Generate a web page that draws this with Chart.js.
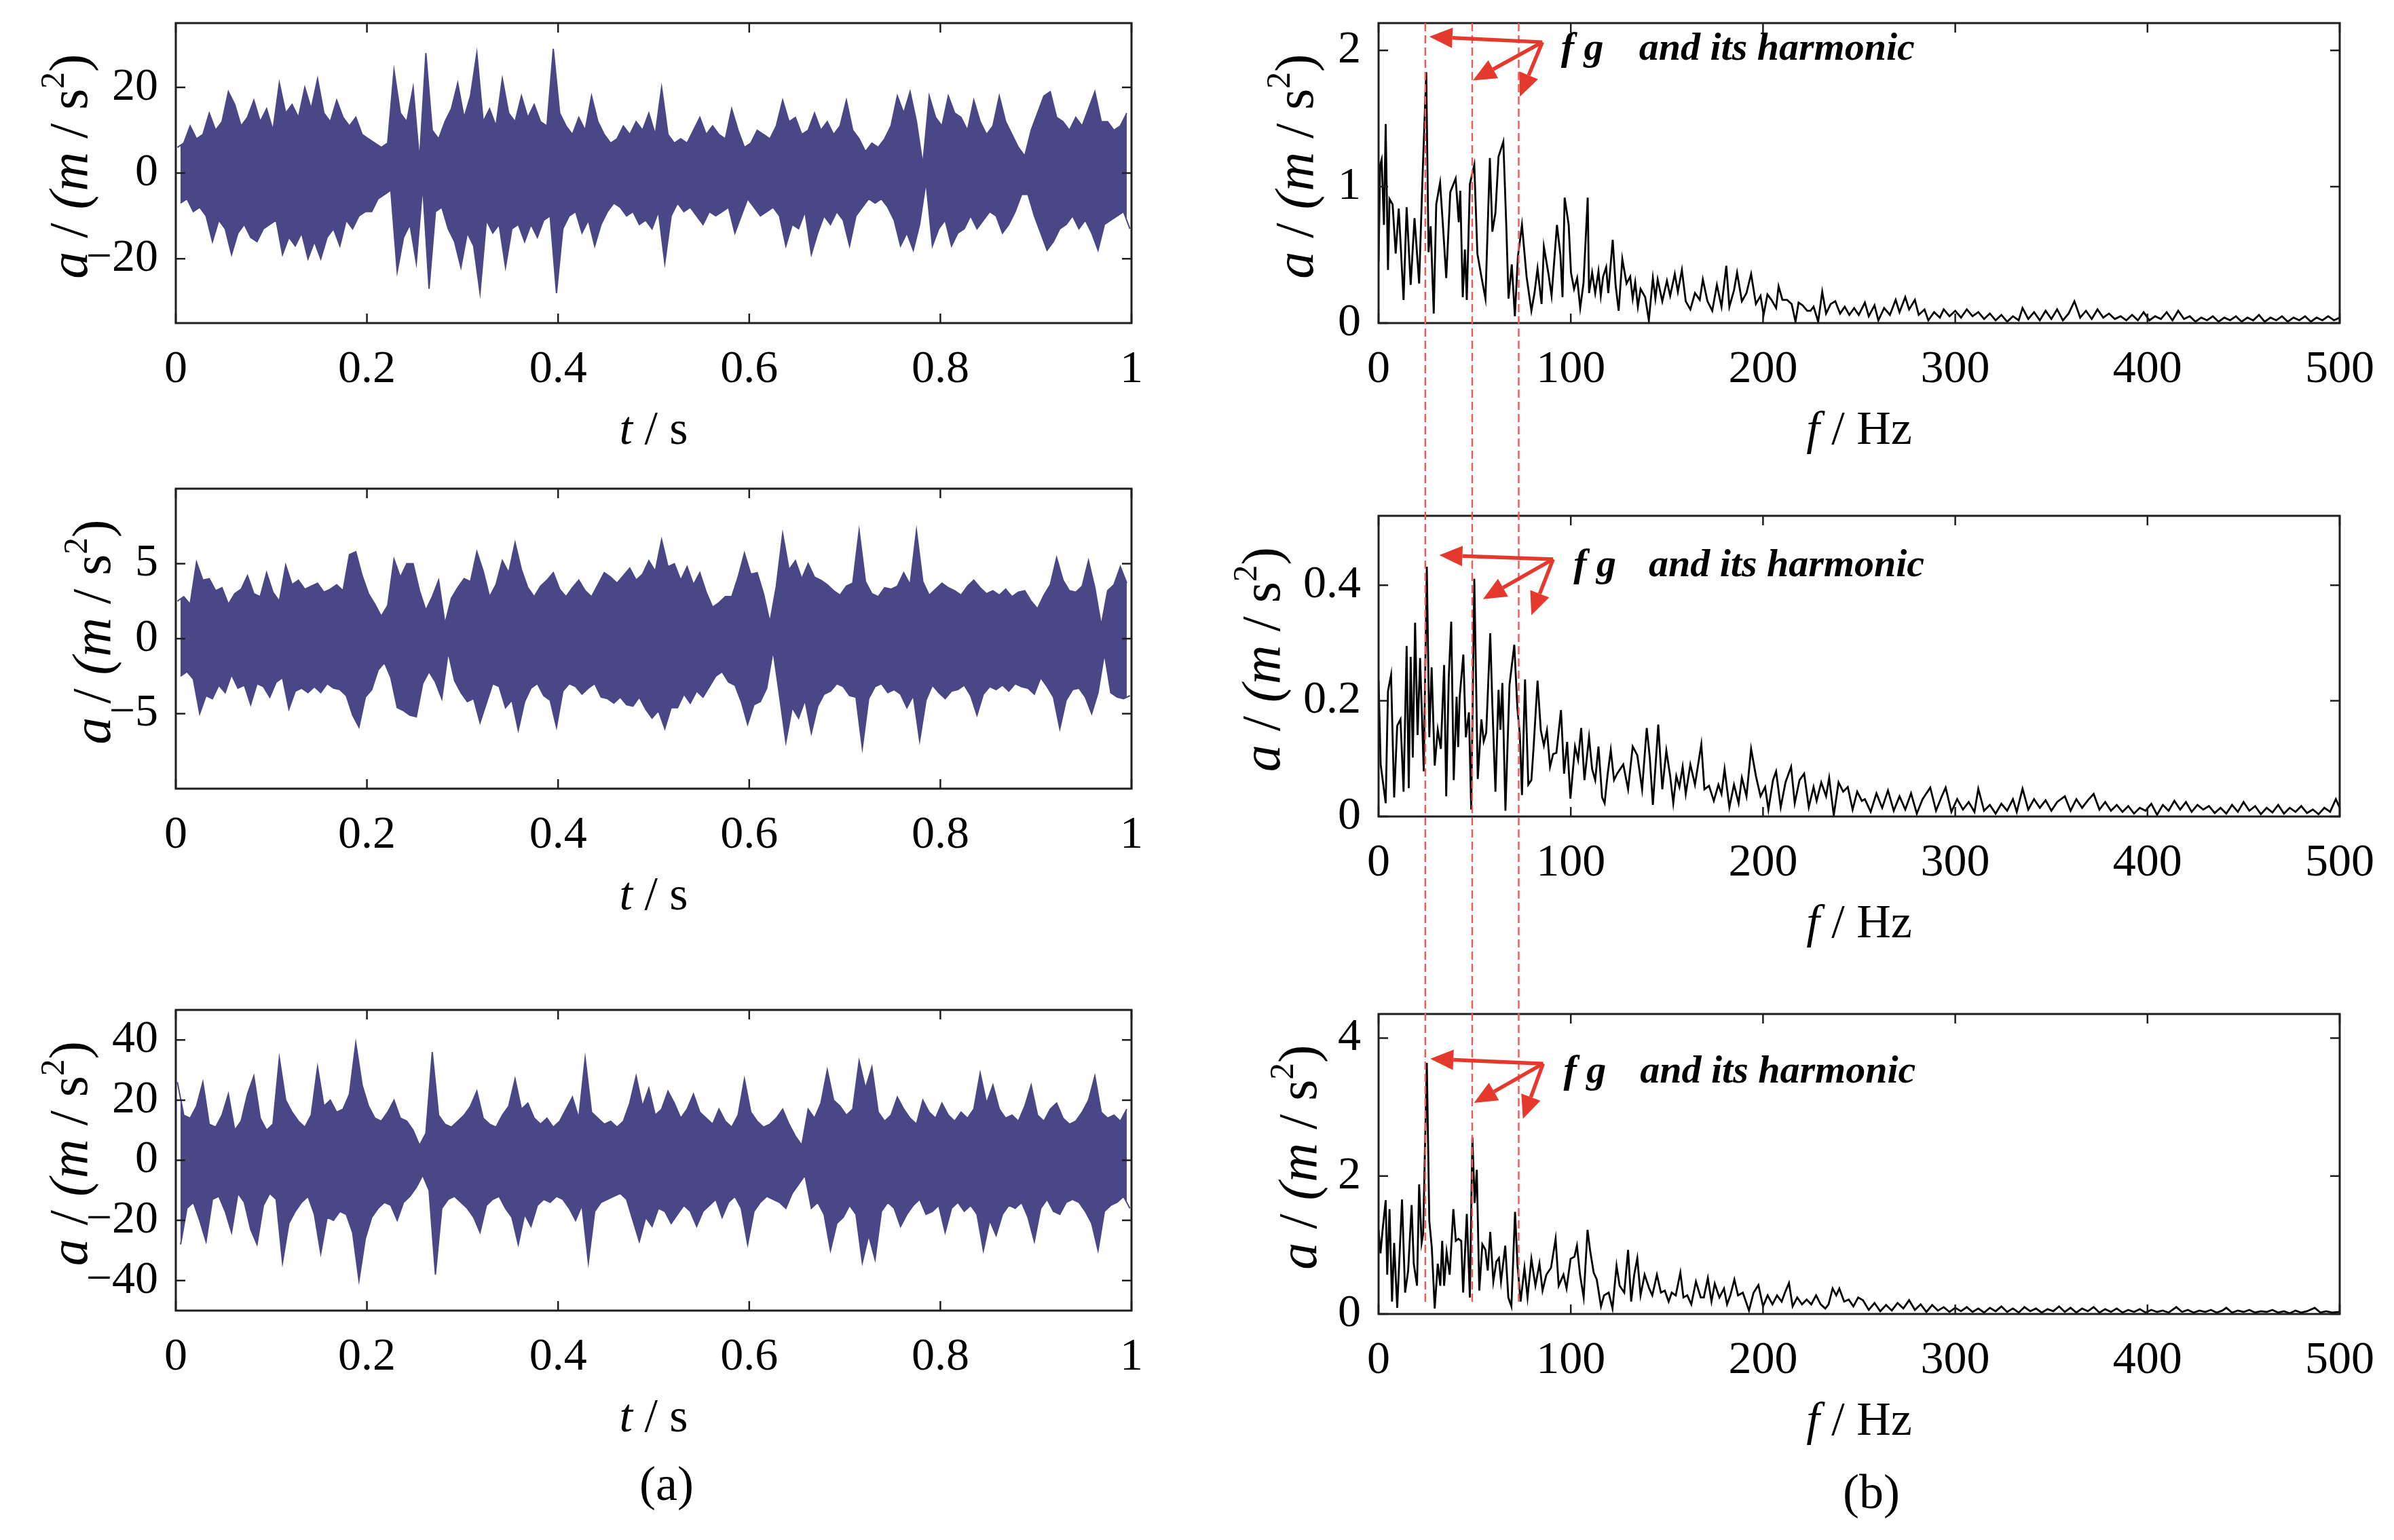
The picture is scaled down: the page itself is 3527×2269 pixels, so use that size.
<!DOCTYPE html>
<html>
<head>
<meta charset="utf-8">
<script src="https://cdn.jsdelivr.net/npm/chart.js@4.4.0/dist/chart.umd.min.js"></script>
<style>
  html, body { margin: 0; padding: 0; background: #fff; }
  #page { position: relative; width: 3527px; height: 2269px; background: #fff; overflow: hidden; }
  #page canvas { position: absolute; }
  .cap { position: absolute; font-family: 'Liberation Serif', serif; font-size: 72px; color: #000; transform: translate(-50%, -50%); }
</style>
</head>
<body>
<div id="page">
  <div class="cap" style="left:982px; top:2186px">(a)</div>
  <div class="cap" style="left:2757px; top:2198px">(b)</div>
  <canvas id="overlay" width="3527" height="2269" style="left:0;top:0;z-index:5;pointer-events:none"></canvas>
</div>
<script>
// ---- tick labels ----
const timeTicks = [0, 0.2, 0.4, 0.6, 0.8, 1];
const freqTicks = [0, 100, 200, 300, 400, 500];
const yTicksSig1 = [-20, 0, 20];
const yTicksSig2 = [-5, 0, 5];
const yTicksSig3 = [-40, -20, 0, 20, 40];
const yTicksSpec1 = [0, 1, 2];
const yTicksSpec2 = [0, 0.2, 0.4];
const yTicksSpec3 = [0, 2, 4];

// ---- time signals: peak / trough per 1/150 s bin ----
const sig1Hi = [6,7,11,8,9,14,10,12,19,16,
  11,13,17,12,15,10,21,14,16,13,
  20,15,22,14,12,17,13,11,13,9,
  8,7,6,7,24,14,12,20,3,28,
  10,8,12,15,21,13,18,28,12,15,
  11,22,14,12,18,13,16,12,11,29,
  14,11,9,13,10,18,12,9,7,8,
  11,9,12,10,14,9,20,9,7,8,
  7,10,13,9,11,9,8,15,10,6,
  7,10,9,8,11,17,12,13,9,10,
  14,10,12,9,11,17,10,8,5,7,
  6,8,11,18,14,19,12,2,18,13,
  11,18,14,13,10,17,12,9,11,18,
  12,9,6,4,10,14,18,19,13,12,
  10,13,11,15,19,12,12,10,11,14];
const sig1Lo = [-7,-6,-9,-8,-10,-16,-11,-13,-19,-14,
  -12,-15,-16,-13,-12,-11,-19,-15,-17,-14,
  -20,-16,-20,-15,-13,-17,-11,-13,-10,-9,
  -9,-6,-5,-4,-23,-15,-12,-21,-3,-27,
  -9,-8,-13,-16,-22,-14,-17,-28,-11,-14,
  -12,-22,-13,-12,-16,-12,-15,-11,-10,-28,
  -13,-10,-9,-14,-11,-17,-12,-9,-7,-8,
  -10,-9,-12,-11,-13,-9,-21,-10,-7,-9,
  -8,-10,-12,-9,-10,-9,-8,-14,-10,-6,
  -8,-10,-9,-8,-10,-17,-12,-13,-9,-19,
  -14,-10,-12,-9,-11,-17,-10,-8,-6,-7,
  -6,-8,-11,-17,-14,-18,-12,-2,-17,-13,
  -11,-17,-14,-13,-10,-13,-11,-9,-10,-14,
  -12,-9,-5,-5,-10,-14,-18,-16,-13,-12,
  -10,-13,-11,-14,-18,-12,-11,-10,-9,-13];

const sig2Hi = [2.5,2.8,2.3,5.1,3.9,4,3.2,3.4,2.3,3,
  3.3,4.2,3,2.8,4.4,3.1,2.5,4.9,3.6,3.9,
  3.3,3.5,3.7,3.1,3.3,3.6,3.2,5.6,5.8,4.2,
  3,2.3,1.5,2.2,5.3,4.1,5,5,3.2,1.9,
  2.8,3.9,1,2.7,3.4,4,3.8,5.8,4.5,2.8,
  3.6,5.2,4.4,6.4,4.6,3.4,2.8,3.5,3.9,4.4,
  3.3,2.8,3.4,3.9,3.2,2.8,3.6,4.4,4.1,3.7,
  4.2,4.7,3.9,4.3,5.2,4.5,6.6,4.8,5,3.9,
  4.8,3.6,4.4,3.1,2.1,2.4,2.8,2.8,4.1,5.7,
  4.3,4.4,3,1.1,3.5,7,4.6,5.2,4,5,
  4.1,3.9,3.6,3.2,2.9,3.5,3.7,7.2,3.8,3,
  2.8,3.4,3.3,3.5,4.4,3.6,7.2,3.8,2.9,3.3,
  3.7,3.4,3.2,2.9,3.5,3.9,3.4,3,3.2,2.9,
  3.3,2.8,3.1,3.2,2.5,2,2.9,3.6,5.4,3.9,
  3.2,3.1,3.5,5.2,3.4,0.9,3.2,3.6,4.8,3.7];
const sig2Lo = [-2.5,-2.2,-2.7,-5,-3.8,-4,-3.1,-3.6,-2.4,-3.3,
  -3.1,-4.4,-3,-3.2,-3.9,-2.9,-2.6,-4.7,-3.5,-3.3,
  -3.6,-3.2,-3.6,-3,-3.3,-3.4,-3.8,-5.1,-5.9,-3.9,
  -3.4,-2.1,-1.6,-2.6,-4.6,-4.8,-5.1,-5.2,-3,-2.2,
  -2.9,-4,-0.9,-2.8,-3.6,-4.2,-4,-5.6,-4.3,-3,
  -3.2,-4.6,-4.1,-6.1,-4.2,-3.3,-3,-3.8,-4.1,-5.9,
  -3.5,-3,-3.2,-3.7,-3.3,-3,-3.9,-4,-4.3,-3.9,
  -4.4,-4.5,-3.9,-4.7,-5.3,-4.8,-6,-4.6,-4.6,-3.7,
  -4.3,-3.5,-3.9,-3.2,-2.5,-2.2,-2.9,-3.1,-4.2,-5.7,
  -4.4,-4.2,-3.3,-0.8,-3.8,-6.9,-4.6,-5.3,-4.1,-6.3,
  -4.5,-3.7,-3.5,-3,-3.2,-3.8,-3.9,-7.3,-4,-3.2,
  -3,-3.6,-3.4,-3.7,-4.6,-3.8,-6.8,-4.1,-3.1,-3.6,
  -4,-3.5,-3.4,-3.1,-3.8,-5.1,-3.7,-3.2,-3.4,-3.1,
  -3.5,-3,-3.2,-3.3,-3.7,-2.6,-3.2,-3.9,-6,-4.1,
  -3.4,-3.3,-3.9,-5,-3.6,-1,-3.6,-3.9,-4,-3.8];

const sig3Hi = [26,15,14,18,26,12,11,15,22,10,
  13,22,28,14,10,12,34,20,16,13,
  11,15,31,18,20,16,17,22,39,25,
  18,14,13,16,20,14,13,10,5,9,
  36,15,12,11,13,15,18,23,14,12,
  11,15,18,27,17,19,14,12,14,11,
  13,17,21,14,34,16,14,12,13,11,
  13,19,28,18,24,15,17,23,19,14,
  17,22,16,14,12,17,13,11,15,27,
  16,13,11,12,14,17,12,8,5,17,
  14,19,30,20,18,15,17,33,24,31,
  16,13,15,21,17,14,12,20,16,14,
  19,15,13,16,14,17,29,19,25,17,
  14,15,13,18,25,15,13,17,19,14,
  12,13,16,20,28,16,14,15,13,17];
const sig3Lo = [-28,-16,-14,-20,-27,-13,-12,-17,-24,-11,
  -14,-23,-28,-15,-11,-13,-34,-21,-17,-14,
  -12,-18,-31,-19,-20,-17,-18,-24,-40,-26,
  -19,-16,-14,-15,-20,-14,-12,-9,-5,-10,
  -38,-16,-13,-12,-14,-16,-19,-24,-15,-13,
  -12,-16,-19,-28,-18,-22,-15,-13,-14,-12,
  -13,-16,-20,-15,-34,-17,-14,-13,-12,-11,
  -13,-20,-27,-19,-22,-16,-17,-21,-18,-15,
  -17,-22,-17,-15,-13,-19,-14,-12,-16,-28,
  -17,-14,-12,-13,-14,-16,-11,-8,-5,-16,
  -14,-18,-30,-21,-19,-15,-18,-34,-25,-33,
  -17,-14,-16,-22,-18,-15,-13,-18,-17,-15,
  -24,-16,-14,-17,-15,-18,-30,-20,-25,-18,
  -15,-16,-14,-19,-27,-16,-13,-17,-18,-14,
  -13,-14,-17,-21,-30,-17,-15,-14,-12,-16];

// ---- spectra: [frequency Hz, amplitude] at the visible peaks and dips ----
const spec1 = [[0,0.45],[0.8,1.16],[1.6,1.2],[2.8,0.72],[3.7,1.46],[4.9,0.39],[5.7,0.91],[7.3,0.87],[8.9,0.51],[10.5,0.84],
  [13,0.17],[14.6,0.85],[16.7,0.28],[18.7,0.77],[21.1,0.29],[22.7,1.0],[24.8,1.84],[26,0.52],[27.1,0.71],[28.7,0.07],
  [30,0.87],[32,1.03],[33.6,0.69],[35.2,0.33],[37.3,0.96],[40.1,1.06],[41.7,0.74],[42.5,0.97],[43.8,0.19],[44.9,0.54],
  [45.9,0.17],[47.5,1.02],[49.8,1.16],[51.4,0.51],[53.5,0.34],[55.6,0.18],[57.9,1.21],[59.2,0.67],[60.8,0.81],[62.4,1.22],
  [64.9,1.33],[66.5,0.69],[67.6,0.18],[69.3,0.43],[70.9,0.05],[72.5,0.49],[74.6,0.72],[77,0.34],[79.5,0.09],[81.1,0.22],
  [82.7,0.4],[84.8,0.14],[86,0.56],[88.4,0.36],[90,0.2],[92.8,0.72],[94.6,0.5],[95.7,0.19],[96.8,0.92],[98.9,0.72],
  [100.1,0.37],[101.7,0.25],[103.3,0.33],[104.9,0.11],[106.6,0.29],[108.8,0.92],[109.5,0.22],[111.1,0.37],[112.7,0.22],[114.4,0.38],
  [115.6,0.2],[116.8,0.34],[118.4,0.41],[119.5,0.22],[121.8,0.61],[123.3,0.28],[124.9,0.09],[126.8,0.47],[129,0.29],[130.9,0.34],
  [132.2,0.18],[133.5,0.3],[134.9,0.12],[136.3,0.25],[138.7,0.19],[140.6,0.02],[142.7,0.33],[144,0.18],[145.2,0.32],[147.6,0.16],
  [150,0.31],[151.7,0.2],[154.1,0.36],[155.7,0.23],[157.8,0.39],[159.8,0.16],[162.2,0.1],[164.6,0.22],[167.1,0.17],[168.7,0.32],
  [171.1,0.16],[173.6,0.09],[176,0.28],[178.4,0.12],[180.9,0.42],[182.5,0.12],[184.9,0.24],[186.5,0.37],[189,0.16],[191.4,0.22],
  [193.8,0.36],[196.3,0.14],[198.7,0.2],[200.3,0.06],[202.3,0.21],[204.4,0.17],[206.8,0.11],[208.1,0.27],[210.1,0.17],[212.5,0.17],
  [214.9,0.14],[216.9,0.01],[218.5,0.15],[220.6,0.13],[223,0.09],[224.7,0.09],[226.3,0.12],[228.7,0.01],[230.8,0.23],[232.8,0.07],
  [235.2,0.14],[237.6,0.16],[240.1,0.07],[242.5,0.12],[244.9,0.06],[247.4,0.11],[249.8,0.06],[253,0.15],[255,0.05],[258,0.13],
  [260,0.02],[263,0.11],[266,0.06],[269,0.17],[271,0.08],[274,0.19],[276,0.1],[279,0.17],[281,0.06],[284,0.1],
  [286,0.02],[289,0.08],[292,0.04],[294,0.1],[297,0.05],[300,0.09],[303,0.04],[306,0.1],[309,0.05],[312,0.08],
  [315,0.03],[318,0.07],[321,0.02],[324,0.06],[327,0.01],[330,0.05],[333,0.02],[335,0.11],[338,0.03],[341,0.08],
  [344,0.02],[347,0.09],[350,0.03],[353,0.1],[356,0.02],[359,0.07],[362,0.16],[365,0.04],[368,0.09],[371,0.03],
  [374,0.1],[377,0.04],[380,0.07],[383,0.03],[386,0.05],[389,0.02],[392,0.06],[395,0.02],[398,0.08],[401,0.02],
  [404,0.05],[407,0.03],[410,0.08],[413,0.02],[416,0.09],[419,0.03],[422,0.05],[425,0.01],[428,0.04],[431,0.02],
  [434,0.05],[437,0.01],[440,0.04],[443,0.02],[446,0.05],[449,0.01],[452,0.04],[455,0.02],[458,0.06],[461,0.01],
  [464,0.04],[467,0.02],[470,0.05],[473,0.01],[476,0.04],[479,0.02],[482,0.05],[485,0.01],[488,0.04],[491,0.02],
  [494,0.05],[497,0.02],[500,0.04]];

const spec2 = [[0,0.235],[1.1,0.09],[3.7,0.023],[4.9,0.217],[6.5,0.245],[8.1,0.033],[9.7,0.157],[11.4,0.168],[13,0.043],[14.6,0.295],
  [15.7,0.049],[16.7,0.276],[17.8,0.102],[19,0.335],[20.3,0.141],[21.6,0.274],[23.5,0.078],[25.1,0.432],[26.4,0.137],[27.6,0.258],
  [29.2,0.088],[30.8,0.15],[32.4,0.117],[34.1,0.262],[35.2,0.035],[36.5,0.239],[37.8,0.337],[39.1,0.063],[40.6,0.207],[41.4,0.12],
  [42.2,0.207],[44.1,0.28],[45.4,0.137],[47,0.18],[48.2,0.012],[49.8,0.411],[51.6,0.065],[53.5,0.168],[54.7,0.13],[56,0.145],
  [58.1,0.317],[59.2,0.192],[60.8,0.043],[62.4,0.219],[63.4,0.15],[64.4,0.231],[66,0.01],[68.1,0.227],[70.6,0.297],[72.2,0.188],
  [73.5,0.141],[74.6,0.037],[76.2,0.237],[77.9,0.055],[79.5,0.063],[80.6,0.117],[82.7,0.235],[84.4,0.149],[86,0.123],[87.6,0.149],
  [89.2,0.086],[90.8,0.108],[92.5,0.11],[94.9,0.184],[96.5,0.074],[98.1,0.129],[99.8,0.031],[102.2,0.121],[103.8,0.098],[105.4,0.153],
  [107.1,0.063],[109.5,0.137],[111.1,0.082],[112.7,0.063],[114.4,0.121],[116.3,0.033],[117.6,0.023],[119.2,0.074],[120.8,0.115],[122.5,0.063],
  [124.1,0.074],[125.7,0.082],[127.3,0.09],[129.8,0.047],[132.2,0.121],[134.6,0.106],[137.1,0.047],[139.5,0.153],[141.1,0.102],[142.7,0.02],
  [145.5,0.159],[147.6,0.047],[149.7,0.114],[151.7,0.07],[153.3,0.023],[154.9,0.07],[156.5,0.051],[158.2,0.086],[159.8,0.039],[162.2,0.09],
  [164.6,0.055],[167.9,0.125],[169.5,0.047],[171.9,0.053],[174.4,0.027],[176.8,0.055],[178.4,0.039],[180,0.082],[182.5,0.016],[184.9,0.055],
  [187.3,0.023],[189,0.067],[191.4,0.035],[193.8,0.117],[196.3,0.07],[198.7,0.035],[201.1,0.051],[202.8,0.012],[205.2,0.063],[206.8,0.078],
  [209.2,0.016],[211.7,0.059],[214.6,0.086],[216.5,0.023],[219,0.063],[221.4,0.074],[223.8,0.016],[226.3,0.051],[227.9,0.027],[230.3,0.059],
  [232.8,0.035],[234.4,0.067],[236.8,0.002],[239.3,0.059],[241.7,0.043],[244.1,0.051],[246.6,0.012],[249,0.043],[251.4,0.027],[253,0.03],
  [256,0.008],[259,0.04],[262,0.015],[265,0.045],[268,0.01],[271,0.035],[274,0.012],[277,0.04],[280,0.005],[283,0.03],
  [287,0.05],[290,0.01],[293,0.035],[295,0.05],[298,0.008],[301,0.03],[304,0.012],[307,0.025],[310,0.008],[312,0.048],
  [315,0.01],[318,0.02],[321,0.005],[324,0.022],[327,0.01],[330,0.03],[332,0.008],[335,0.048],[338,0.012],[341,0.03],
  [344,0.015],[347,0.028],[350,0.01],[353,0.025],[357,0.035],[360,0.01],[363,0.03],[366,0.015],[369,0.028],[372,0.039],
  [375,0.012],[378,0.025],[381,0.01],[384,0.02],[387,0.008],[390,0.018],[393,0.005],[396,0.015],[399,0.01],[402,0.022],
  [405,0.003],[408,0.02],[411,0.01],[414,0.027],[417,0.012],[420,0.025],[423,0.008],[426,0.02],[429,0.012],[432,0.018],
  [435,0.006],[438,0.015],[441,0.005],[444,0.02],[447,0.008],[450,0.025],[453,0.01],[456,0.018],[459,0.004],[462,0.015],
  [465,0.007],[468,0.02],[471,0.005],[474,0.015],[477,0.008],[480,0.018],[483,0.006],[486,0.012],[489,0.004],[492,0.015],
  [495,0.008],[498,0.03],[500,0.015]];

const spec3 = [[0,1.22],[1,0.88],[2.1,1.22],[3.7,1.65],[4.5,0.57],[5.7,1.52],[7,0.18],[8.1,1.03],[9.7,0.09],[12.2,1.66],
  [13.8,0.31],[15.4,0.63],[17.2,1.58],[18.3,0.73],[20,0.41],[21.1,1.88],[22.4,1.03],[23.2,1.16],[25.1,3.64],[26.4,1.35],
  [27.7,0.96],[29.2,0.08],[30.8,0.73],[32.1,0.41],[33.1,1.06],[34.1,0.41],[35.4,0.9],[37,0.57],[38.9,1.52],[40.2,1.06],
  [41.5,1.09],[43,1.06],[44,0.31],[45.9,1.45],[47.5,0.24],[48.8,2.56],[50,1.61],[51.1,2.09],[52.4,0.34],[54,1.01],
  [55.6,0.93],[56.8,0.63],[58.1,1.19],[59.7,0.47],[61.3,0.76],[62.6,0.81],[63.7,0.47],[65.9,0.99],[67.5,0.24],[69.1,0.11],
  [71,1.48],[72.3,0.7],[73.9,0.18],[75.9,0.67],[77.5,0.24],[79.5,0.8],[81.6,0.41],[83.7,0.73],[85.3,0.34],[87.3,0.57],
  [89.7,0.67],[92.1,1.09],[93.7,0.41],[96.2,0.57],[97.8,0.37],[99.9,0.8],[101.9,0.83],[103.2,0.99],[104.8,0.57],[106.7,0.24],
  [108.7,1.22],[110,0.93],[111.9,0.6],[113.5,0.5],[115.7,0.11],[117.3,0.27],[119.7,0.31],[121.7,0.08],[123.8,0.7],[125.4,0.41],
  [127.8,0.31],[129.8,0.93],[131.4,0.18],[133,0.57],[134.6,0.81],[136.3,0.27],[138.4,0.57],[140.8,0.37],[142.4,0.27],[144.8,0.57],
  [146.9,0.31],[148.9,0.34],[150.9,0.18],[152.5,0.31],[154.6,0.27],[157,0.6],[158.6,0.24],[160.6,0.27],[162.7,0.14],[165.1,0.47],
  [167.6,0.24],[169.2,0.24],[171.3,0.52],[173.2,0.18],[174.9,0.44],[177.3,0.24],[179.7,0.37],[181.3,0.14],[183,0.27],[185.1,0.5],
  [187,0.27],[189.5,0.31],[192.7,0.05],[195.1,0.31],[197.6,0.42],[200,0.11],[202.4,0.27],[204.9,0.14],[207.3,0.27],[209.7,0.18],
  [211.4,0.31],[213.5,0.45],[215.4,0.11],[217.8,0.24],[220.3,0.14],[222.7,0.21],[225.1,0.14],[227.6,0.27],[230,0.14],[232.4,0.08],
  [234.1,0.14],[236.2,0.37],[238.1,0.27],[239.7,0.37],[242.2,0.18],[244.6,0.21],[247,0.11],[249.5,0.24],[252,0.2],[255,0.06],
  [258,0.16],[261,0.04],[264,0.13],[267,0.05],[270,0.16],[273,0.08],[276,0.2],[279,0.06],[282,0.14],[285,0.03],
  [288,0.13],[291,0.05],[294,0.1],[297,0.03],[300,0.09],[303,0.04],[306,0.1],[309,0.03],[312,0.08],[315,0.02],
  [318,0.09],[321,0.04],[324,0.11],[327,0.03],[330,0.08],[333,0.02],[336,0.1],[339,0.04],[342,0.08],[345,0.02],
  [348,0.07],[351,0.04],[354,0.11],[357,0.03],[360,0.09],[363,0.02],[366,0.08],[369,0.04],[372,0.1],[375,0.02],
  [378,0.07],[381,0.03],[384,0.08],[387,0.02],[390,0.06],[393,0.03],[396,0.07],[399,0.02],[402,0.06],[405,0.03],
  [408,0.05],[411,0.02],[415,0.1],[418,0.03],[421,0.06],[424,0.02],[427,0.05],[430,0.03],[433,0.06],[436,0.02],
  [439,0.05],[441,0.09],[444,0.02],[447,0.05],[450,0.03],[453,0.06],[456,0.02],[459,0.04],[462,0.03],[465,0.06],
  [468,0.02],[471,0.04],[474,0.01],[477,0.05],[480,0.02],[483,0.04],[487,0.09],[490,0.02],[493,0.04],[496,0.02],
  [500,0.03]];

// gear mesh frequency and its harmonics (dashed red guides)
const fgLines = [24.3, 48.7, 72.9];

// ---- drawing ----
const SERIF = "'Liberation Serif', 'Times New Roman', serif";
Chart.defaults.font.family = SERIF;
Chart.defaults.color = '#000';

const page = document.getElementById('page');
const PAD = { l: 260, t: 70, r: 100, b: 230 };
const SIG_COLOR = '#4a4787';
const TICK = 14;

const yTitleSegs = [
  { t: 'a', it: true }, { t: ' / ' }, { t: '(m', it: true }, { t: ' / s' }, { t: '2', sup: true }, { t: ')' }
];
const tTitleSegs = [{ t: 't', it: true }, { t: ' / s' }];
const fTitleSegs = [{ t: 'f', it: true }, { t: ' / Hz' }];

// signal band: upper envelope filled down to lower envelope
function band(hi, lo) {
  const n = hi.length;
  const up = hi.map((v, i) => ({ x: (i + 0.25) / n, y: v }));
  const dn = lo.map((v, i) => ({ x: (i + 0.75) / n, y: v }));
  return [
    { data: up, borderColor: SIG_COLOR, backgroundColor: SIG_COLOR, borderWidth: 2, pointRadius: 0, tension: 0, fill: '+1' },
    { data: dn, borderColor: SIG_COLOR, borderWidth: 2, pointRadius: 0, tension: 0, fill: false }
  ];
}
function spectrum(arr) {
  return [{ data: arr.map(p => ({ x: p[0], y: p[1] })), borderColor: '#000', borderWidth: 2.8, pointRadius: 0, tension: 0, fill: false }];
}

function fontFor(seg, size) {
  const s = seg.sup ? size * 0.62 : size;
  return (seg.it ? 'italic ' : '') + s + 'px ' + SERIF;
}
function drawRich(ctx, segs, cx, baseY, size) {
  let total = 0;
  const widths = segs.map(s => { ctx.font = fontFor(s, size); const w = ctx.measureText(s.t).width; total += w; return w; });
  let x = cx - total / 2;
  ctx.textBaseline = 'alphabetic';
  ctx.textAlign = 'left';
  ctx.fillStyle = '#000';
  segs.forEach((s, i) => {
    ctx.font = fontFor(s, size);
    ctx.fillText(s.t, x, baseY - (s.sup ? size * 0.42 : 0));
    x += widths[i];
  });
}

function fmt(v) {
  if (v < 0) return '\u2212' + Math.abs(v);
  return String(v);
}

function drawFrame(chart, p) {
  const { ctx, chartArea: a } = chart;
  const xs = chart.scales.x, ys = chart.scales.y;
  ctx.save();
  ctx.strokeStyle = '#1e1e1e';
  ctx.lineWidth = 2.5;
  ctx.beginPath();
  p.xTicks.forEach(v => {
    const x = xs.getPixelForValue(v);
    ctx.moveTo(x, a.bottom); ctx.lineTo(x, a.bottom - TICK);
    ctx.moveTo(x, a.top); ctx.lineTo(x, a.top + TICK);
  });
  p.yTicks.forEach(v => {
    const y = ys.getPixelForValue(v);
    ctx.moveTo(a.left, y); ctx.lineTo(a.left + TICK, y);
    ctx.moveTo(a.right, y); ctx.lineTo(a.right - TICK, y);
  });
  ctx.stroke();
  ctx.lineWidth = 3;
  ctx.strokeRect(a.left, a.top, a.right - a.left, a.bottom - a.top);
  drawRich(ctx, p.xTitle, (a.left + a.right) / 2, a.bottom + 178, 70);
  ctx.translate(a.left - p.yGap, (a.top + a.bottom) / 2 - 10);
  ctx.rotate(-Math.PI / 2);
  drawRich(ctx, yTitleSegs, 0, 0, 80);
  ctx.restore();
}

function makeChart(p) {
  const c = document.createElement('canvas');
  c.width = p.box[2] + PAD.l + PAD.r;
  c.height = p.box[3] + PAD.t + PAD.b;
  c.style.left = (p.box[0] - PAD.l) + 'px';
  c.style.top = (p.box[1] - PAD.t) + 'px';
  page.appendChild(c);
  return new Chart(c, {
    type: 'line',
    data: { datasets: p.datasets },
    options: {
      responsive: false,
      animation: false,
      devicePixelRatio: 1,
      events: [],
      layout: { padding: { left: 0, top: PAD.t, right: PAD.r, bottom: 0 } },
      plugins: { legend: { display: false }, tooltip: { enabled: false } },
      scales: {
        x: {
          type: 'linear', min: p.xr[0], max: p.xr[1],
          grid: { display: false, drawTicks: false },
          border: { display: false },
          ticks: { font: { family: SERIF, size: 68 }, color: '#000', padding: 28, maxRotation: 0, autoSkip: false, callback: fmt },
          afterBuildTicks: s => { s.ticks = p.xTicks.map(v => ({ value: v })); },
          afterFit: s => { s.height = PAD.b; }
        },
        y: {
          type: 'linear', min: p.yr[0], max: p.yr[1],
          grid: { display: false, drawTicks: false },
          border: { display: false },
          ticks: { font: { family: SERIF, size: 68 }, color: '#000', padding: 26, autoSkip: false, callback: fmt },
          afterBuildTicks: s => { s.ticks = p.yTicks.map(v => ({ value: v })); },
          afterFit: s => { s.width = PAD.l; }
        }
      }
    },
    plugins: [{ id: 'frame', afterDraw: chart => drawFrame(chart, p) }]
  });
}

const panels = [
  { box: [259, 34, 1408, 442], datasets: band(sig1Hi, sig1Lo), xr: [0, 1], yr: [-35, 35], xTicks: timeTicks, yTicks: yTicksSig1, xTitle: tTitleSegs, yGap: 131 },
  { box: [259, 720, 1408, 442], datasets: band(sig2Hi, sig2Lo), xr: [0, 1], yr: [-10, 10], xTicks: timeTicks, yTicks: yTicksSig2, xTitle: tTitleSegs, yGap: 97 },
  { box: [259, 1488, 1408, 443], datasets: band(sig3Hi, sig3Lo), xr: [0, 1], yr: [-50, 50], xTicks: timeTicks, yTicks: yTicksSig3, xTitle: tTitleSegs, yGap: 131 },
  { box: [2031, 34, 1416, 442], datasets: spectrum(spec1), xr: [0, 500], yr: [0, 2.2], xTicks: freqTicks, yTicks: yTicksSpec1, xTitle: fTitleSegs, yGap: 97 },
  { box: [2031, 760, 1416, 443], datasets: spectrum(spec2), xr: [0, 500], yr: [0, 0.52], xTicks: freqTicks, yTicks: yTicksSpec2, xTitle: fTitleSegs, yGap: 146 },
  { box: [2031, 1494, 1416, 442], datasets: spectrum(spec3), xr: [0, 500], yr: [0, 4.35], xTicks: freqTicks, yTicks: yTicksSpec3, xTitle: fTitleSegs, yGap: 92 }
];

const charts = panels.map(makeChart);
const specCharts = charts.slice(3);

// annotation anchors in data coordinates of each spectrum panel
const notes = [
  { from: [85.2, 2.06], tips: [[26.4, 2.10], [49.1, 1.78], [73.5, 1.66]], fg: [94.9, 1.93], rest: [135.5, 1.93] },
  { from: [90.8, 0.445], tips: [[31.6, 0.452], [54.3, 0.376], [79.5, 0.348]], fg: [101.4, 0.415], rest: [140.5, 0.415] },
  { from: [85.6, 3.63], tips: [[26.9, 3.70], [49.6, 3.06], [75.1, 2.83]], fg: [96.2, 3.36], rest: [136, 3.36] }
];

function px(chart, v) { return chart.canvas.offsetLeft + chart.scales.x.getPixelForValue(v); }
function py(chart, v) { return chart.canvas.offsetTop + chart.scales.y.getPixelForValue(v); }

function arrow(ctx, x0, y0, x1, y1) {
  const ang = Math.atan2(y1 - y0, x1 - x0);
  const hl = 34, hw = 15;
  const bx = x1 - hl * Math.cos(ang), by = y1 - hl * Math.sin(ang);
  ctx.beginPath();
  ctx.moveTo(x0, y0);
  ctx.lineTo(bx, by);
  ctx.stroke();
  ctx.beginPath();
  ctx.moveTo(x1, y1);
  ctx.lineTo(bx + hw * Math.sin(ang), by - hw * Math.cos(ang));
  ctx.lineTo(bx - hw * Math.sin(ang), by + hw * Math.cos(ang));
  ctx.closePath();
  ctx.fill();
}

function drawOverlay() {
  const ctx = document.getElementById('overlay').getContext('2d');
  const top = specCharts[0], bot = specCharts[2];
  ctx.save();
  ctx.strokeStyle = '#ef5a55';
  ctx.lineWidth = 2.4;
  ctx.setLineDash([12, 6]);
  fgLines.forEach(f => {
    const x = px(top, f);
    ctx.beginPath();
    ctx.moveTo(x, py(top, top.scales.y.max));
    ctx.lineTo(x, py(bot, 0.15));
    ctx.stroke();
  });
  ctx.setLineDash([]);
  ctx.strokeStyle = '#e5392d';
  ctx.fillStyle = '#e5392d';
  ctx.lineWidth = 5.5;
  notes.forEach((n, i) => {
    const ch = specCharts[i];
    const x0 = px(ch, n.from[0]), y0 = py(ch, n.from[1]);
    n.tips.forEach(t => arrow(ctx, x0, y0, px(ch, t[0]), py(ch, t[1])));
  });
  ctx.fillStyle = '#000';
  ctx.font = 'italic bold 58px ' + SERIF;
  ctx.textBaseline = 'alphabetic';
  notes.forEach((n, i) => {
    const ch = specCharts[i];
    ctx.fillText('f g', px(ch, n.fg[0]), py(ch, n.fg[1]));
    ctx.fillText('and its harmonic', px(ch, n.rest[0]), py(ch, n.rest[1]));
  });
  ctx.restore();
}
drawOverlay();
</script>
</body>
</html>
